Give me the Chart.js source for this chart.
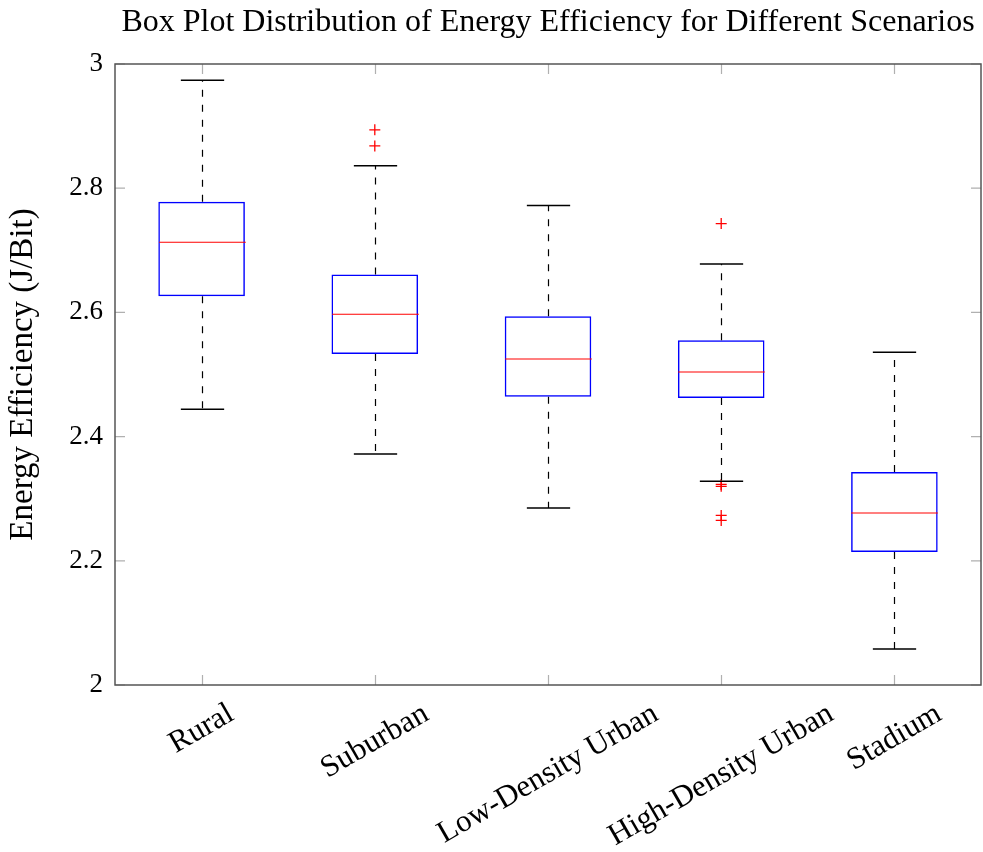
<!DOCTYPE html>
<html>
<head>
<meta charset="utf-8">
<script src="https://cdn.jsdelivr.net/npm/chart.js@4.4.1/dist/chart.umd.min.js"></script>
<style>
  html, body { margin: 0; padding: 0; background: #fff; overflow: hidden; }
  canvas { display: block; }
</style>
</head>
<body>
<canvas id="boxChart" width="983" height="852"></canvas>
<script>
// Data
var scenarios = ['Rural', 'Suburban', 'Low-Density Urban', 'High-Density Urban', 'Stadium'];
var whiskerLow = [2.444, 2.372, 2.285, 2.328, 2.058];
var quart1 = [2.626, 2.533, 2.464, 2.462, 2.214];
var medians = [2.713, 2.597, 2.525, 2.504, 2.277];
var quart3 = [2.778, 2.661, 2.594, 2.555, 2.343];
var whiskerHigh = [2.974, 2.836, 2.772, 2.678, 2.536];
var outlierCats = ['Suburban', 'Suburban', 'High-Density Urban', 'High-Density Urban', 'High-Density Urban', 'High-Density Urban', 'High-Density Urban'];
var outlierVals = [2.894, 2.868, 2.743, 2.323, 2.320, 2.273, 2.265];
var yTicks = [2, 2.2, 2.4, 2.6, 2.8, 3];

var serif = '"Liberation Serif", "DejaVu Serif", serif';

// whiskers, caps, medians, frame, inward ticks and rotated x labels
var boxExtras = {
    id: 'boxExtras',
    afterDatasetsDraw: function(chart) {
        var ctx = chart.ctx;
        var x = chart.scales.x, y = chart.scales.y;
        var half = x.getPixelForValue(1) - x.getPixelForValue(0);
        var boxHalf = half * 0.25, capHalf = half * 0.125;
        ctx.save();
        scenarios.forEach(function(name, i) {
            var cx = Math.round(x.getPixelForValue(i)) + 0.5;
            // dashed whiskers
            ctx.strokeStyle = '#000';
            ctx.lineWidth = 1.2;
            ctx.setLineDash([7, 8]);
            ctx.beginPath();
            ctx.moveTo(cx, y.getPixelForValue(quart3[i]));
            ctx.lineTo(cx, y.getPixelForValue(whiskerHigh[i]));
            ctx.moveTo(cx, y.getPixelForValue(quart1[i]));
            ctx.lineTo(cx, y.getPixelForValue(whiskerLow[i]));
            ctx.stroke();
            ctx.setLineDash([]);
            // caps
            ctx.lineWidth = 1.5;
            ctx.beginPath();
            [whiskerHigh[i], whiskerLow[i]].forEach(function(v) {
                var py = y.getPixelForValue(v);
                ctx.moveTo(cx - capHalf, py);
                ctx.lineTo(cx + capHalf, py);
            });
            ctx.stroke();
            // median
            ctx.strokeStyle = '#ff0000';
            ctx.lineWidth = 1.2;
            var my = y.getPixelForValue(medians[i]);
            ctx.beginPath();
            ctx.moveTo(cx - boxHalf, my);
            ctx.lineTo(cx + boxHalf, my);
            ctx.stroke();
        });
        ctx.restore();
    },
    afterDraw: function(chart) {
        var ctx = chart.ctx;
        var a = chart.chartArea;
        var x = chart.scales.x, y = chart.scales.y;
        ctx.save();
        // inward ticks
        ctx.strokeStyle = '#b0b0b0';
        ctx.lineWidth = 1.2;
        ctx.beginPath();
        yTicks.forEach(function(v) {
            var py = y.getPixelForValue(v);
            ctx.moveTo(a.left, py); ctx.lineTo(a.left + 10, py);
            ctx.moveTo(a.right, py); ctx.lineTo(a.right - 10, py);
        });
        scenarios.forEach(function(name, i) {
            var px = Math.round(x.getPixelForValue(i)) + 0.5;
            ctx.moveTo(px, a.bottom); ctx.lineTo(px, a.bottom - 10);
            ctx.moveTo(px, a.top); ctx.lineTo(px, a.top + 10);
        });
        ctx.stroke();
        // frame
        ctx.strokeStyle = '#555';
        ctx.lineWidth = 1.5;
        ctx.strokeRect(a.left, a.top, a.right - a.left, a.bottom - a.top);
        // rotated category labels
        var size = 31;
        ctx.font = size + 'px ' + serif;
        ctx.fillStyle = '#000';
        ctx.textAlign = 'center';
        ctx.textBaseline = 'middle';
        var ang = 30 * Math.PI / 180;
        scenarios.forEach(function(name, i) {
            var w = ctx.measureText(name).width;
            var hy = (w / 2) * Math.sin(ang) + (size * 0.4) * Math.cos(ang);
            var px = x.getPixelForValue(i);
            var py = a.bottom + 16 + hy;
            ctx.save();
            ctx.translate(px, py);
            ctx.rotate(-ang);
            ctx.fillText(name, 0, 0);
            ctx.restore();
        });
        ctx.restore();
    }
};

var ctx = document.getElementById('boxChart').getContext('2d');
var boxChart = new Chart(ctx, {
    type: 'bar',
    data: {
        labels: scenarios,
        datasets: [{
            label: 'IQR',
            data: quart1.map(function(q, i) { return [q, quart3[i]]; }),
            backgroundColor: 'rgba(255,255,255,0)',
            borderColor: '#0000ff',
            borderWidth: 1.5,
            borderSkipped: false,
            barPercentage: 0.5,
            categoryPercentage: 1
        }, {
            type: 'line',
            label: 'Outliers',
            data: outlierCats.map(function(c, i) { return { x: c, y: outlierVals[i] }; }),
            showLine: false,
            pointStyle: 'cross',
            pointRadius: 5.5,
            pointBorderWidth: 1.3,
            borderColor: '#ff0000',
            backgroundColor: '#ff0000'
        }]
    },
    options: {
        responsive: false,
        animation: false,
        devicePixelRatio: 1,
        layout: { autoPadding: false, padding: { left: 0, right: 2, top: 0, bottom: 0 } },
        plugins: {
            legend: { display: false },
            tooltip: { enabled: false },
            title: {
                display: true,
                fullSize: false,
                text: 'Box Plot Distribution of Energy Efficiency for Different Scenarios',
                color: '#000',
                font: { family: serif, size: 32, weight: 'normal' },
                padding: { top: 3, bottom: 22.6 }
            }
        },
        scales: {
            x: {
                type: 'category',
                offset: true,
                grid: { display: false },
                border: { display: false },
                ticks: { display: false },
                afterFit: function(s) {
                    s.height = 167;
                    s.paddingLeft = 0;
                    s.paddingRight = 0;
                }
            },
            y: {
                min: 2,
                max: 3,
                afterBuildTicks: function(s) { s.ticks = yTicks.map(function(v) { return { value: v }; }); },
                grid: { display: false, drawTicks: false },
                border: { display: false },
                ticks: {
                    color: '#000',
                    padding: 12,
                    font: { family: serif, size: 27 },
                    callback: function(v) { return String(Math.round(v * 10) / 10); }
                },
                title: {
                    display: true,
                    text: 'Energy Efficiency (J/Bit)',
                    color: '#000',
                    font: { family: serif, size: 33 },
                    padding: { top: 4, bottom: 0 }
                },
                afterFit: function(s) {
                    s.width = 115;
                    s.paddingTop = 0;
                    s.paddingBottom = 0;
                }
            }
        }
    },
    plugins: [boxExtras]
});
</script>
</body>
</html>
